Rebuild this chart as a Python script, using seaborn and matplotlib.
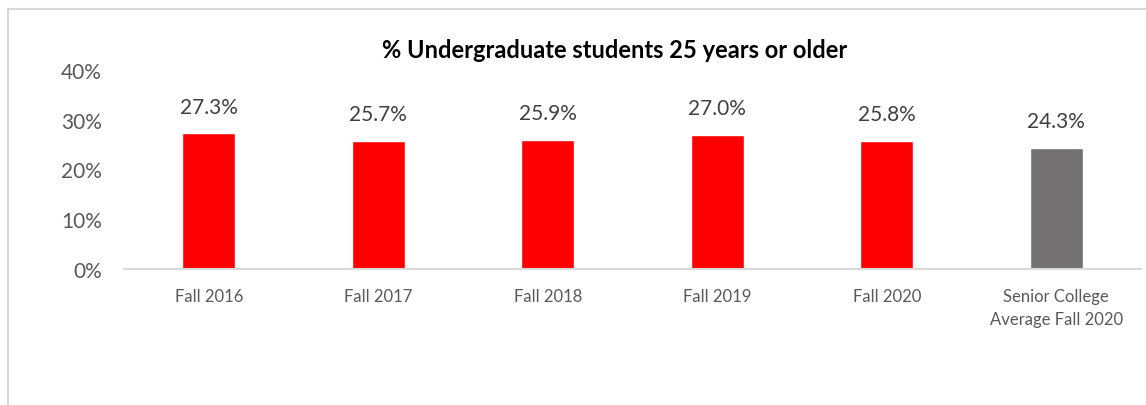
import matplotlib
matplotlib.use("Agg")
import matplotlib.pyplot as plt
import seaborn as sns
from matplotlib.patches import Rectangle
from matplotlib.ticker import PercentFormatter

categories = ["Fall 2016", "Fall 2017", "Fall 2018", "Fall 2019", "Fall 2020",
              "Senior College\nAverage Fall 2020"]
values = [27.3, 25.7, 25.9, 27.0, 25.8, 24.3]
colors = ["#FF0000", "#FF0000", "#FF0000", "#FF0000", "#FF0000", "#767171"]
y_ticks = [0, 10, 20, 30, 40]

sns.set_style("white")
plt.rcParams["font.family"] = ["Lato", "DejaVu Sans"]

W, H = 1146, 406
fig = plt.figure(figsize=(W / 100, H / 100), dpi=100)
ax = fig.add_axes([124 / W, 1 - 270 / H, (1141 - 124) / W, (270 - 71) / H])

sns.barplot(x=categories, y=values, hue=categories, palette=colors,
            legend=False, width=0.31, saturation=1, ax=ax)

ax.set_ylim(0, 40)
ax.set_yticks(y_ticks)
ax.yaxis.set_major_formatter(PercentFormatter(decimals=0))
ax.set_xlabel("")
ax.set_ylabel("")
ax.tick_params(axis="y", labelsize=15, labelcolor="#595959", length=0, pad=16)
ax.tick_params(axis="x", labelsize=12, labelcolor="#595959", length=0, pad=14)
for lab in ax.get_xticklabels():
    lab.set_linespacing(1.5)

for s in ["top", "right", "left"]:
    ax.spines[s].set_visible(False)
ax.spines["bottom"].set_color("#D9D9D9")
ax.spines["bottom"].set_linewidth(1.5)

for i, v in enumerate(values):
    ax.annotate(f"{v:.1f}%", (i, v), xytext=(0, 12), textcoords="offset points",
                ha="center", va="bottom", fontsize=15, color="#404040")

fig.text(615 / W, 1 - 50 / H, "% Undergraduate students 25 years or older",
         ha="center", va="center", fontsize=17, fontweight="bold", color="black")

fig.patches.append(Rectangle((8 / W, -0.2), 1.5, 1 - 10 / H + 0.2,
                             transform=fig.transFigure, fill=False,
                             edgecolor="#D9D9D9", linewidth=1.5))

fig.savefig("out.png", dpi=100)
